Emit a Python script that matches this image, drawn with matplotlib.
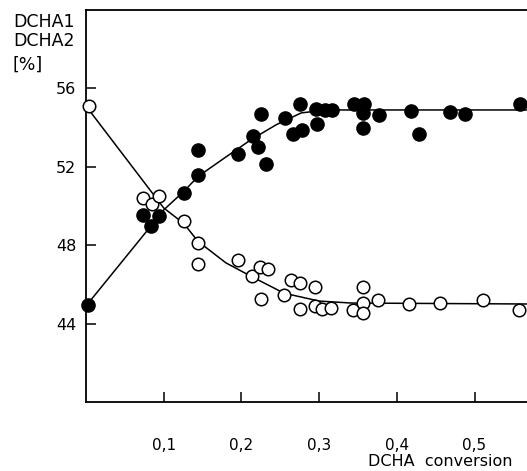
import matplotlib.pyplot as plt

# DCHA1 (filled circles)
x_filled = [0.003, 0.073, 0.084, 0.094, 0.126, 0.144, 0.144, 0.196, 0.215, 0.221,
            0.232, 0.225, 0.256, 0.275, 0.266, 0.278, 0.297, 0.296, 0.308, 0.317,
            0.345, 0.358, 0.356, 0.357, 0.377, 0.418, 0.429, 0.468, 0.488, 0.559]
y_filled = [44.93, 49.52, 48.96, 49.47, 50.66, 51.6, 52.87, 52.67, 53.55, 53.0,
            52.16, 54.67, 54.5, 55.18, 53.69, 53.9, 54.16, 54.96, 54.9, 54.9,
            55.18, 55.2, 54.76, 53.97, 54.62, 54.84, 53.69, 54.8, 54.67, 55.18]

# DCHA2 (open circles)
x_open = [0.004, 0.073, 0.085, 0.094, 0.126, 0.144, 0.144, 0.195, 0.214, 0.224,
          0.234, 0.225, 0.255, 0.264, 0.275, 0.275, 0.295, 0.295, 0.304, 0.315,
          0.344, 0.357, 0.357, 0.357, 0.376, 0.416, 0.455, 0.511, 0.557]
y_open = [55.08, 50.42, 50.12, 50.5, 49.23, 48.13, 47.06, 47.22, 46.41, 46.88,
          46.77, 45.23, 45.47, 46.22, 46.07, 44.76, 45.87, 44.88, 44.76, 44.81,
          44.71, 45.87, 45.05, 44.54, 45.22, 45.01, 45.05, 45.18, 44.67]

# hand-drawn fit curves
curve1_x = [0.0, 0.084, 0.1, 0.126, 0.144, 0.18, 0.213, 0.245, 0.277, 0.31, 0.5675]
curve1_y = [44.9, 49.0, 49.8, 50.75, 51.5, 52.5, 53.4, 54.15, 54.75, 54.9, 54.9]
curve2_x = [0.0, 0.05, 0.1, 0.126, 0.144, 0.18, 0.213, 0.255, 0.30, 0.341, 0.5675]
curve2_y = [55.1, 52.5, 49.9, 49.1, 48.2, 47.1, 46.4, 45.55, 45.15, 45.05, 45.0]

xticks = [0.1, 0.2, 0.3, 0.4, 0.5]
xtick_labels = ['0,1', '0,2', '0,3', '0,4', '0,5']
yticks = [44, 48, 52, 56]

fig = plt.figure(figsize=(5.27, 4.71), dpi=100)
ax = fig.add_axes([86 / 527, 69 / 471, 441 / 527, 392 / 471])

ax.plot(curve1_x, curve1_y, color='black', lw=1.1, zorder=1)
ax.plot(curve2_x, curve2_y, color='black', lw=1.1, zorder=1)
ax.plot(x_filled, y_filled, 'o', ms=9.5, mfc='black', mec='black', mew=1.0,
        clip_on=False, zorder=3)
ax.plot(x_open, y_open, 'o', ms=9.0, mfc='white', mec='black', mew=1.1,
        clip_on=False, zorder=3)

ax.set_xlim(0, 0.5675)
ax.set_ylim(40, 60)
ax.spines['right'].set_visible(False)
for s in ['left', 'bottom', 'top']:
    ax.spines[s].set_linewidth(1.3)

ax.set_xticks(xticks, xtick_labels)
ax.set_yticks(yticks)
ax.tick_params(axis='x', direction='in', length=7, width=1.1, pad=26, labelsize=11)
ax.tick_params(axis='y', direction='in', length=7, width=1.1, pad=7, labelsize=11.5)

fig.text(13 / 527, 1 - 22 / 471, 'DCHA1', fontsize=12.5, va='center', ha='left')
fig.text(13 / 527, 1 - 41 / 471, 'DCHA2', fontsize=12.5, va='center', ha='left')
fig.text(13 / 527, 1 - 65 / 471, '[%]', fontsize=12.5, va='center', ha='left')
fig.text(512 / 527, 1 - 462 / 471, 'DCHA  conversion', fontsize=11.5,
         va='center', ha='right')

fig.savefig('out.png', dpi=100)
